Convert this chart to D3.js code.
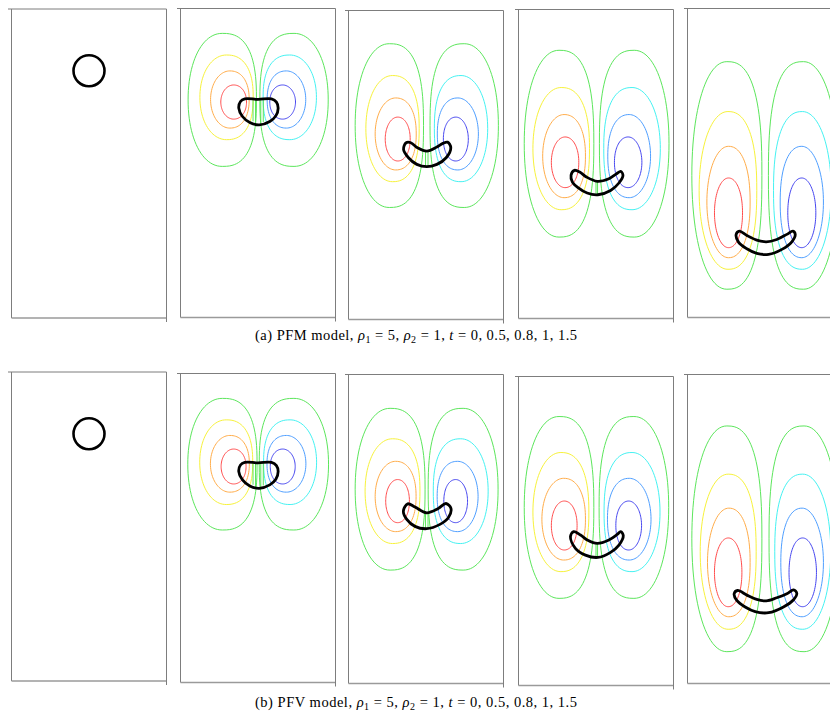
<!DOCTYPE html>
<html>
<head>
<meta charset="utf-8">
<script src="https://cdn.jsdelivr.net/npm/d3@7"></script>
<style>
  html, body { margin: 0; padding: 0; background: #fff; }
  svg { display: block; }
  .caption { font-family: 'Liberation Serif', 'DejaVu Serif', serif; font-size: 14.5px; fill: #000; }
</style>
</head>
<body>
<div id="chart"></div>
<script>
// snapshots of the rising drop, domain [0,1] x [0,2]
const times = [0, 0.5, 0.8, 1, 1.5]
const captions = [
  { tag: '(a) PFM model, ', rho1: 5, rho2: 1 },
  { tag: '(b) PFV model, ', rho1: 5, rho2: 1 }
]

// initial drop
const dropCentre = [0.5, 1.6]
const dropRadius = 0.1

// symmetry axis of the vortex pair, one value per time
const pfmAxis = [0.5, 0.501, 0.505, 0.504, 0.501]
const pfvAxis = [0.5, 0.501, 0.504, 0.503, 0.503]

// left vortex contours, outermost to innermost: [xOuter, xInner, yTop, yBottom]
const pfmVortex = [
  null,
  [[0.049, 0.490, 1.839, 0.978], [0.125, 0.469, 1.699, 1.151], [0.194, 0.443, 1.596, 1.226], [0.260, 0.426, 1.505, 1.284]],
  [[0.043, 0.484, 1.785, 0.725], [0.112, 0.456, 1.579, 0.892], [0.172, 0.437, 1.434, 0.968], [0.237, 0.398, 1.310, 1.026]],
  [[0.037, 0.486, 1.736, 0.527], [0.093, 0.458, 1.495, 0.704], [0.156, 0.432, 1.320, 0.782], [0.212, 0.389, 1.175, 0.847]],
  [[0.028, 0.480, 1.656, 0.183], [0.075, 0.447, 1.333, 0.312], [0.125, 0.404, 1.108, 0.387], [0.174, 0.355, 0.903, 0.452]]
]
const pfvVortex = [
  null,
  [[0.047, 0.494, 1.839, 0.987], [0.124, 0.466, 1.700, 1.152], [0.193, 0.444, 1.599, 1.232], [0.262, 0.423, 1.511, 1.285]],
  [[0.043, 0.494, 1.781, 0.734], [0.107, 0.461, 1.584, 0.906], [0.172, 0.436, 1.438, 0.983], [0.240, 0.393, 1.320, 1.041]],
  [[0.037, 0.486, 1.741, 0.564], [0.093, 0.454, 1.508, 0.737], [0.151, 0.432, 1.341, 0.812], [0.212, 0.378, 1.194, 0.877]],
  [[0.028, 0.480, 1.667, 0.206], [0.082, 0.443, 1.355, 0.351], [0.129, 0.404, 1.135, 0.432], [0.174, 0.351, 0.942, 0.497]]
]

// short near-zero contours crossing the drop: [x, yLow, yHigh]
const pfmInner = [
  [],
  [[0.468, 1.27, 1.41], [0.484, 1.255, 1.41], [0.518, 1.255, 1.41], [0.534, 1.265, 1.41]],
  [[0.497, 0.99, 1.09], [0.513, 0.99, 1.09]],
  [[0.500, 0.80, 0.89], [0.510, 0.80, 0.89]],
  []
]
const pfvInner = [
  [],
  [[0.468, 1.28, 1.42], [0.484, 1.265, 1.42], [0.518, 1.265, 1.42], [0.534, 1.275, 1.42]],
  [[0.497, 1.00, 1.10], [0.513, 1.00, 1.10]],
  [[0.500, 0.83, 0.92], [0.510, 0.83, 0.92]],
  []
]

// drop interface outlines
const pfmInterface = [
  null,
  [[0.415, 1.415], [0.501, 1.412], [0.587, 1.415], [0.619, 1.394], [0.630, 1.355], [0.615, 1.305], [0.576, 1.269], [0.508, 1.247], [0.447, 1.262], [0.400, 1.301], [0.376, 1.355], [0.387, 1.398]],
  [[0.355, 1.101], [0.387, 1.047], [0.441, 1.004], [0.505, 0.989], [0.570, 1.004], [0.630, 1.047], [0.660, 1.112], [0.639, 1.148], [0.609, 1.140], [0.570, 1.116], [0.505, 1.090], [0.445, 1.112], [0.402, 1.144], [0.372, 1.144]],
  [[0.339, 0.927], [0.361, 0.959], [0.395, 0.948], [0.438, 0.916], [0.508, 0.888], [0.583, 0.905], [0.633, 0.937], [0.659, 0.952], [0.674, 0.927], [0.648, 0.877], [0.594, 0.829], [0.512, 0.801], [0.443, 0.812], [0.384, 0.847], [0.348, 0.883]],
  [[0.314, 0.538], [0.335, 0.559], [0.383, 0.531], [0.447, 0.501], [0.508, 0.490], [0.576, 0.505], [0.641, 0.538], [0.680, 0.559], [0.695, 0.538], [0.673, 0.490], [0.609, 0.441], [0.523, 0.409], [0.447, 0.415], [0.383, 0.445], [0.329, 0.488]]
]
const pfvInterface = [
  null,
  [[0.415, 1.425], [0.501, 1.422], [0.587, 1.425], [0.619, 1.404], [0.630, 1.365], [0.615, 1.315], [0.576, 1.279], [0.508, 1.257], [0.447, 1.272], [0.400, 1.311], [0.376, 1.365], [0.387, 1.408]],
  [[0.354, 1.116], [0.382, 1.163], [0.429, 1.142], [0.504, 1.105], [0.579, 1.133], [0.629, 1.165], [0.661, 1.133], [0.644, 1.073], [0.590, 1.030], [0.504, 1.002], [0.429, 1.017], [0.376, 1.062]],
  [[0.335, 0.963], [0.356, 0.996], [0.400, 0.974], [0.447, 0.940], [0.508, 0.920], [0.583, 0.942], [0.637, 0.978], [0.659, 0.996], [0.676, 0.970], [0.648, 0.909], [0.594, 0.862], [0.512, 0.829], [0.432, 0.844], [0.367, 0.888]],
  [[0.301, 0.581], [0.323, 0.602], [0.383, 0.572], [0.447, 0.544], [0.508, 0.535], [0.576, 0.555], [0.641, 0.581], [0.684, 0.606], [0.705, 0.585], [0.684, 0.542], [0.619, 0.495], [0.523, 0.458], [0.437, 0.465], [0.372, 0.495], [0.318, 0.538]]
]

const rows = [
  { axis: pfmAxis, vortex: pfmVortex, inner: pfmInner, iface: pfmInterface },
  { axis: pfvAxis, vortex: pfvVortex, inner: pfvInner, iface: pfvInterface }
]

// layout / style
const width = 830
const height = 717
const colX = [11.5, 180.5, 348.5, 518.5, 687.5]
const rowTop = [[9, 8.5, 10.5, 9.5, 8.5], [372, 373.5, 374.5, 376.5, 374.5]]
const panelW = 155
const panelH = 309
const captionY = [340, 707]
const captionW = 322
const leftColors = ['#5ce65c', '#f7f23c', '#ffad4a', '#ff4d4d']
const rightColors = ['#5ce65c', '#45f2f2', '#4f9fff', '#4646f0']
// superellipse exponents (outer side, inner side) per level
const shapeExp = [[2.1, 2.6], [2.05, 2.4], [2, 2.25], [2, 2.1]]

const svg = d3.select('#chart')
  .append('svg')
  .attr('width', width)
  .attr('height', height)

svg.append('rect').attr('width', width).attr('height', height).attr('fill', '#fff')

// closed loop from extents, flatter on the side facing the axis
const loop = (c, nO, nI) => {
  const [xO, xI, yT, yB] = c
  const cx = (xO + xI) / 2
  const a = (xI - xO) / 2
  const cy = (yT + yB) / 2
  const b = (yT - yB) / 2
  return d3.range(0, 96).map(i => {
    const t = i / 96 * 2 * Math.PI
    const co = Math.cos(t)
    const si = Math.sin(t)
    const n = co >= 0 ? nI : nO
    return [
      cx + a * Math.sign(co) * Math.pow(Math.abs(co), 2 / n),
      cy + b * Math.sign(si) * Math.pow(Math.abs(si), 2 / n)
    ]
  })
}

rows.forEach((row, r) => {
  times.forEach((t, k) => {
    const x0 = colX[k]
    const y0 = rowTop[r][k]
    const xs = d3.scaleLinear().domain([0, 1]).range([x0, x0 + panelW])
    const ys = d3.scaleLinear().domain([0, 2]).range([y0 + panelH, y0])

    const g = svg.append('g')

    // frame
    const frame = g.append('g').attr('stroke', '#7d7d7d').attr('stroke-width', 1).attr('fill', 'none')
    frame.append('line').attr('x1', xs(0) - 3.5).attr('x2', xs(1)).attr('y1', ys(2)).attr('y2', ys(2))
    frame.append('line').attr('x1', xs(0)).attr('x2', xs(0)).attr('y1', ys(2)).attr('y2', ys(0))
    frame.append('line').attr('x1', xs(0)).attr('x2', xs(1)).attr('y1', ys(0)).attr('y2', ys(0))
      .attr('stroke', '#9a9a9a').attr('stroke-width', 1.3)
    frame.append('line').attr('x1', xs(1)).attr('x2', xs(1)).attr('y1', ys(2)).attr('y2', ys(0) + 4)

    const line = d3.line().x(d => xs(d[0])).y(d => ys(d[1]))

    const levels = row.vortex[k]
    if (levels) {
      const ax = row.axis[k]
      const cont = g.append('g').attr('fill', 'none').attr('stroke-width', 1)
      levels.forEach((c, i) => {
        const pts = loop(c, shapeExp[i][0], shapeExp[i][1])
        cont.append('path')
          .attr('d', line.curve(d3.curveLinearClosed)(pts))
          .attr('stroke', leftColors[i])
        cont.append('path')
          .attr('d', line.curve(d3.curveLinearClosed)(pts.map(p => [2 * ax - p[0], p[1]])))
          .attr('stroke', rightColors[i])
      })
      row.inner[k].forEach(s => {
        cont.append('line')
          .attr('x1', xs(s[0])).attr('x2', xs(s[0]))
          .attr('y1', ys(s[1])).attr('y2', ys(s[2]))
          .attr('stroke', leftColors[0])
      })
    }

    // interface
    if (row.iface[k]) {
      g.append('path')
        .attr('d', d3.line().x(d => xs(d[0])).y(d => ys(d[1])).curve(d3.curveCatmullRomClosed.alpha(0.5))(row.iface[k]))
        .attr('fill', 'none')
        .attr('stroke', '#000')
        .attr('stroke-width', 2.8)
    } else {
      g.append('circle')
        .attr('cx', xs(dropCentre[0]))
        .attr('cy', ys(dropCentre[1]))
        .attr('r', xs(dropRadius) - xs(0))
        .attr('fill', 'none')
        .attr('stroke', '#000')
        .attr('stroke-width', 2.6)
    }
  })

  // caption
  const cap = captions[r]
  const txt = svg.append('text')
    .attr('class', 'caption')
    .attr('x', 416 - captionW / 2)
    .attr('y', captionY[r])
    .attr('textLength', captionW)
    .attr('lengthAdjust', 'spacing')
  txt.append('tspan').text(cap.tag)
  txt.append('tspan').attr('font-style', 'italic').text('ρ')
  txt.append('tspan').attr('font-size', '10px').attr('dy', 2.5).text('1')
  txt.append('tspan').attr('dy', -2.5).text(' = ' + cap.rho1 + ', ')
  txt.append('tspan').attr('font-style', 'italic').text('ρ')
  txt.append('tspan').attr('font-size', '10px').attr('dy', 2.5).text('2')
  txt.append('tspan').attr('dy', -2.5).text(' = ' + cap.rho2 + ', ')
  txt.append('tspan').attr('font-style', 'italic').text('t')
  txt.append('tspan').text(' = ' + times.join(', '))
})
</script>
</body>
</html>
